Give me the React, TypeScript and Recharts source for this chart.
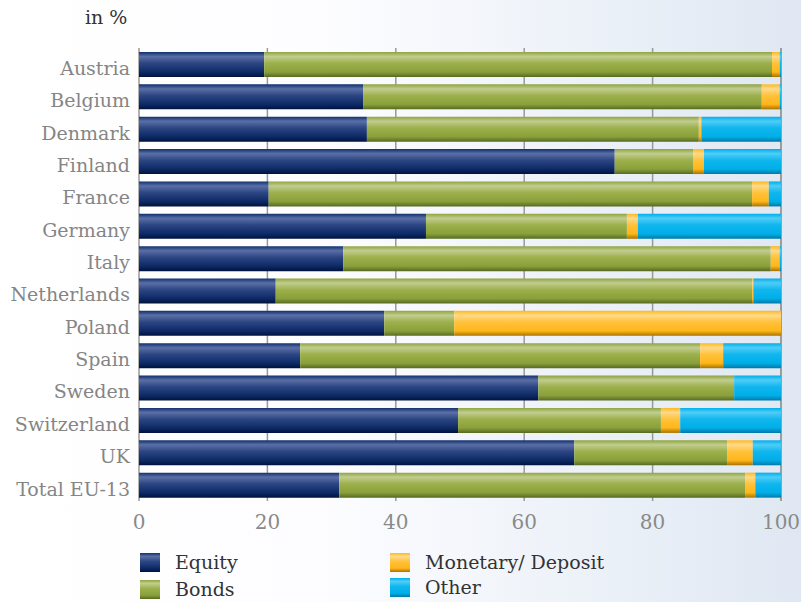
import { BarChart, Bar, XAxis, YAxis, CartesianGrid } from "recharts"

const countries = ["Austria", "Belgium", "Denmark", "Finland", "France", "Germany", "Italy", "Netherlands", "Poland", "Spain", "Sweden", "Switzerland", "UK", "Total EU-13"]
const equity = [19.5, 34.9, 35.5, 74.1, 20.2, 44.7, 31.8, 21.3, 38.2, 25.1, 62.2, 49.7, 67.8, 31.2]
const bonds = [79.1, 62.1, 51.7, 12.2, 75.3, 31.3, 66.6, 74.2, 10.9, 62.3, 30.5, 31.6, 23.8, 63.2]
const monetary = [1.2, 2.8, 0.4, 1.7, 2.6, 1.7, 1.4, 0.2, 50.9, 3.6, 0, 3.0, 4.0, 1.6]
const other = [0.2, 0.2, 12.4, 12.0, 1.9, 22.3, 0.2, 4.3, 0, 9.0, 7.3, 15.7, 4.4, 4.0]
const xTicks = [0, 20, 40, 60, 80, 100]

const FONT = "'DejaVu Serif', serif"

// gradient stops per series: [offset, color]
const grads: Record<string, Array<[string, string]>> = {
  gEquity: [["0%", "#10306e"], ["18%", "#5b6fa6"], ["45%", "#2c4683"], ["80%", "#0d2a66"], ["100%", "#00123c"]],
  gBonds: [["0%", "#8ea43e"], ["18%", "#c2cd90"], ["45%", "#9cb04c"], ["80%", "#8aa03a"], ["100%", "#566a22"]],
  gMonetary: [["0%", "#ffb81c"], ["18%", "#ffda8a"], ["45%", "#ffc23a"], ["80%", "#ffb61a"], ["100%", "#a67300"]],
  gOther: [["0%", "#00aeea"], ["18%", "#4fcdf7"], ["45%", "#10b6ee"], ["80%", "#00aee8"], ["100%", "#0079a8"]],
}

const legendItems = [
  { label: "Equity", grad: "gEquity", x: 140, y: 553 },
  { label: "Bonds", grad: "gBonds", x: 140, y: 580 },
  { label: "Monetary/ Deposit", grad: "gMonetary", x: 390, y: 553 },
  { label: "Other", grad: "gOther", x: 390, y: 578 },
]

const cssGrad = (id: string) =>
  "linear-gradient(to bottom, " + grads[id].map(([o, c]) => c + " " + o).join(", ") + ")"

export default function App() {
  const data = countries.map((name, i) => ({
    name,
    equity: equity[i],
    bonds: bonds[i],
    monetary: monetary[i],
    other: other[i],
  }))

  return (
    <div
      style={{
        position: "absolute",
        left: 0,
        top: 0,
        width: 801,
        height: 602,
        background: "linear-gradient(90deg, #ffffff 0%, #fdfdff 40%, #e9eff7 80%, #dfe7f2 100%)",
        fontFamily: FONT,
      }}
    >
      <div style={{ position: "absolute", left: 85, top: 6, fontSize: 19, color: "#333" }}>in %</div>
      <BarChart
        width={801}
        height={602}
        data={data}
        layout="vertical"
        margin={{ top: 48, right: 20, bottom: 71, left: 0 }}
        barSize={25}
      >
        <defs>
          {Object.entries(grads).map(([id, stops]) => (
            <linearGradient key={id} id={id} x1="0" y1="0" x2="0" y2="1">
              {stops.map(([o, c]) => (
                <stop key={o} offset={o} stopColor={c} />
              ))}
            </linearGradient>
          ))}
        </defs>
        <CartesianGrid horizontal={false} stroke="#999" strokeWidth={1.5} />
        <XAxis
          type="number"
          domain={[0, 100]}
          ticks={xTicks}
          axisLine={false}
          tickLine={false}
          tickSize={0}
          tickMargin={14}
          height={30}
          tick={{ fill: "#8a8a8a", fontSize: 20, fontFamily: FONT }}
        />
        <YAxis
          type="category"
          dataKey="name"
          width={139}
          axisLine={false}
          tickLine={false}
          tickSize={0}
          tickMargin={9}
          interval={0}
          tick={{ fill: "#858585", fontSize: 19, fontFamily: FONT, dy: 4 }}
        />
        <Bar dataKey="equity" stackId="a" fill="url(#gEquity)" isAnimationActive={false} />
        <Bar dataKey="bonds" stackId="a" fill="url(#gBonds)" isAnimationActive={false} />
        <Bar dataKey="monetary" stackId="a" fill="url(#gMonetary)" isAnimationActive={false} />
        <Bar dataKey="other" stackId="a" fill="url(#gOther)" isAnimationActive={false} />
      </BarChart>
      {legendItems.map((it) => (
        <div key={it.label} style={{ position: "absolute", left: it.x, top: it.y, display: "flex", alignItems: "center" }}>
          <div style={{ width: 20, height: 19, background: cssGrad(it.grad) }} />
          <span style={{ marginLeft: 15, fontSize: 19, color: "#333", lineHeight: "19px" }}>{it.label}</span>
        </div>
      ))}
    </div>
  )
}
